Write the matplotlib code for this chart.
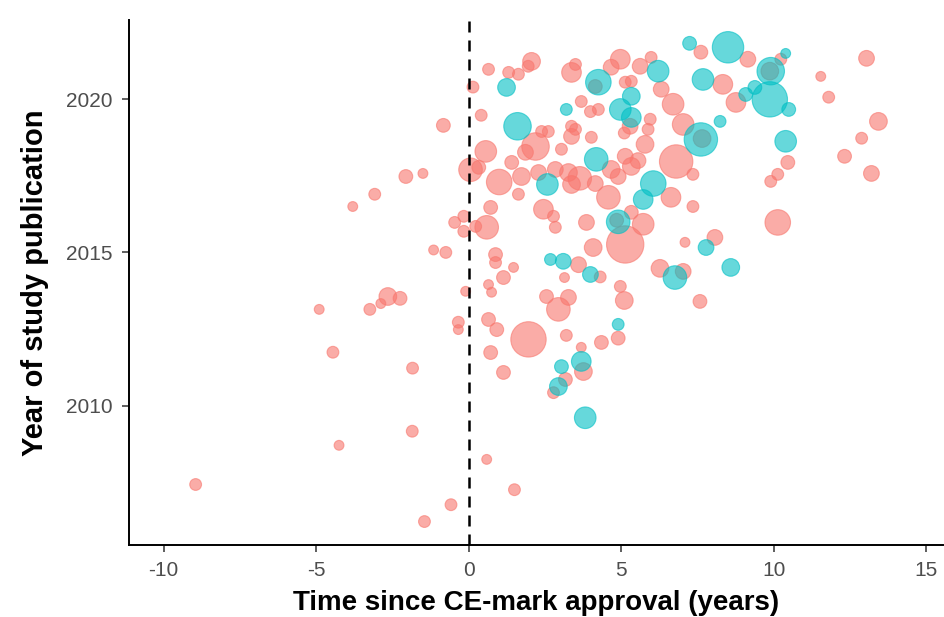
import numpy as np
import matplotlib
matplotlib.use('Agg')
import matplotlib.pyplot as plt

plt.rcParams['font.family'] = ['Liberation Sans', 'DejaVu Sans']
plt.rcParams['axes.unicode_minus'] = False

# Studies without the flag (salmon): time since CE mark, publication year, study size
ce_years_a = [-0.83, -2.06, -1.50, -3.08, -3.80, -0.46, -0.16, -0.16, -1.15, -0.75,
              -0.10, -2.65, -2.25, -2.88, -3.24, -4.90, -0.34, -0.34, -4.45, -1.84,
              -1.85, -4.25, -8.95, -0.58, -1.45,
              0.14, 0.65, 0.41, 0.06, 0.56, 1.00, 0.72, 0.23, 0.59, 0.88,
              0.88, 0.65, 0.75, 0.65, 0.92, 0.72, 1.14, 0.59, 1.50, 0.33,
              1.31, 1.63, 2.06, 1.95, 2.61, 2.39, 2.19, 3.04, 3.37, 3.50,
              3.69, 4.02, 3.37, 3.50, 4.15, 4.97, 4.25, 1.86, 4.67, 5.13,
              4.67, 5.13, 3.99, 3.37, 1.41, 1.73, 2.29, 2.84, 3.27, 3.64,
              4.15, 4.90,
              1.63, 3.37, 4.58, 2.45, 2.78, 2.84, 1.47, 1.14, 3.60, 4.31,
              3.14, 3.86, 4.08, 5.13, 2.55, 3.27, 2.94, 4.97, 5.10, 1.96,
              3.20, 3.69, 4.35, 4.90, 3.76, 3.17, 2.78, 4.85,
              5.98, 5.62, 5.33, 6.31, 7.61, 9.15, 10.23, 9.87, 8.33, 8.76,
              6.70, 7.03, 7.65, 5.95, 5.88, 5.78, 5.29, 5.33, 6.80, 7.35,
              10.46, 10.13, 9.90, 6.63, 7.35, 5.72, 10.13, 7.09, 8.07, 6.27,
              7.03, 7.58, 5.33, 5.10, 5.55,
              13.04, 11.54, 11.80, 13.43, 12.88, 12.32, 13.20]
pub_year_a = [2019.15, 2017.48, 2017.58, 2016.90, 2016.50, 2015.98, 2016.18, 2015.69, 2015.08, 2015.00,
              2013.73, 2013.56, 2013.50, 2013.33, 2013.14, 2013.14, 2012.72, 2012.48, 2011.74, 2011.22,
              2009.16, 2008.70, 2007.42, 2006.76, 2006.21,
              2020.40, 2020.98, 2019.48, 2017.70, 2018.30, 2017.30, 2016.47, 2015.85, 2015.82, 2014.93,
              2014.67, 2013.95, 2013.70, 2012.81, 2012.48, 2011.73, 2011.08, 2008.24, 2007.25, 2017.78,
              2020.88, 2020.82, 2021.24, 2021.08, 2018.95, 2018.95, 2018.46, 2018.37, 2020.88, 2021.14,
              2019.93, 2018.76, 2018.79, 2019.02, 2020.42, 2021.31, 2019.67, 2018.27, 2017.71, 2018.14,
              2021.05, 2020.56, 2019.60, 2019.12, 2017.94, 2017.48, 2017.61, 2017.71, 2017.61, 2017.42,
              2017.25, 2017.48,
              2016.90, 2017.22, 2016.80, 2016.41, 2016.18, 2015.82, 2014.51, 2014.18, 2014.60, 2014.20,
              2014.18, 2015.98, 2015.16, 2015.26, 2013.56, 2013.53, 2013.14, 2013.89, 2013.43, 2012.16,
              2012.29, 2011.90, 2012.06, 2012.20, 2011.11, 2010.85, 2010.42, 2016.05,
              2021.37, 2021.08, 2020.59, 2020.33, 2021.54, 2021.31, 2021.31, 2020.92, 2020.49, 2019.90,
              2019.84, 2019.18, 2018.72, 2019.35, 2019.02, 2018.53, 2019.12, 2017.81, 2017.97, 2017.55,
              2017.94, 2017.55, 2017.32, 2016.80, 2016.50, 2015.92, 2015.98, 2015.33, 2015.49, 2014.48,
              2014.38, 2013.40, 2016.31, 2018.90, 2018.00,
              2021.34, 2020.75, 2020.07, 2019.28, 2018.73, 2018.14, 2017.58]
n_a = [490, 490, 250, 360, 250, 360, 360, 360, 250, 360,
       250, 810, 490, 250, 360, 250, 360, 250, 360, 360,
       360, 250, 360, 360, 360,
       360, 360, 360, 1440, 1210, 1690, 490, 360, 1440, 490,
       360, 250, 250, 490, 490, 490, 490, 250, 360, 490,
       360, 360, 810, 360, 360, 360, 1960, 360, 1000, 360,
       360, 360, 640, 360, 490, 1000, 360, 640, 810, 640,
       640, 360, 360, 360, 490, 810, 640, 640, 810, 1440,
       640, 640,
       360, 810, 1440, 1000, 360, 360, 250, 490, 640, 360,
       250, 640, 810, 3610, 490, 640, 1440, 360, 810, 3240,
       360, 250, 490, 490, 810, 490, 360, 490,
       360, 640, 360, 640, 490, 640, 360, 810, 1000, 1000,
       1210, 1210, 810, 360, 360, 810, 640, 810, 2890, 360,
       490, 360, 360, 1000, 360, 1210, 1690, 250, 640, 810,
       640, 490, 490, 360, 640,
       640, 250, 360, 810, 360, 490, 640]

# Studies with the flag (teal)
ce_years_b = [1.24, 1.60, 3.20, 4.25, 4.97, 4.18, 2.58, 5.33, 5.33, 7.24,
              8.50, 10.39, 9.90, 9.87, 9.08, 9.38, 10.49, 10.39, 7.68, 6.21,
              7.61, 8.24, 6.05, 5.72, 4.90, 2.68, 3.10, 3.99, 4.90, 7.78,
              8.59, 6.76, 3.04, 3.69, 2.94, 3.82]
pub_year_b = [2020.39, 2019.12, 2019.67, 2020.56, 2019.67, 2018.04, 2017.22, 2020.10, 2019.41, 2021.83,
              2021.70, 2021.50, 2020.92, 2020.00, 2020.16, 2020.39, 2019.67, 2018.63, 2020.65, 2020.92,
              2018.69, 2019.28, 2017.25, 2016.73, 2016.00, 2014.77, 2014.71, 2014.28, 2012.65, 2015.16,
              2014.51, 2014.18, 2011.27, 2011.44, 2010.62, 2009.60]
n_b = [810, 1960, 360, 1690, 1210, 1440, 1210, 810, 1000, 490,
       2560, 250, 1960, 3240, 490, 490, 490, 1210, 1210, 1210,
       2890, 360, 1690, 1000, 1440, 360, 640, 640, 360, 640,
       810, 1440, 490, 1000, 810, 1210]

x_ticks = [-10, -5, 0, 5, 10, 15]
y_ticks = [2010, 2015, 2020]

SALMON = '#F8766D'
TEAL = '#00BFC4'


def bubble(n):
    return np.asarray(n) * 0.2


fig = plt.figure(figsize=(9.45, 6.17), dpi=100)
ax = fig.add_axes([0.136, 0.117, 0.862, 0.851])

ax.scatter(ce_years_a, pub_year_a, s=bubble(n_a), color=SALMON, alpha=0.6,
           edgecolors=SALMON, linewidths=0.8, zorder=2)
ax.scatter(ce_years_b, pub_year_b, s=bubble(n_b), color=TEAL, alpha=0.6,
           edgecolors=TEAL, linewidths=0.8, zorder=2)

ax.axvline(0, color='black', linestyle=(0, (4.4, 3.2)), linewidth=1.8, zorder=3)

ax.set_xlim(-11.15, 15.55)
ax.set_ylim(2005.45, 2022.6)
ax.set_xticks(x_ticks)
ax.set_yticks(y_ticks)

for side in ['top', 'right']:
    ax.spines[side].set_visible(False)
for side in ['left', 'bottom']:
    ax.spines[side].set_linewidth(1.4)
    ax.spines[side].set_color('black')
ax.tick_params(axis='both', length=5, width=1.1, color='#333333',
               labelsize=15, labelcolor='#4D4D4D', pad=6.5)

ax.set_xlabel('Time since CE-mark approval (years)', fontsize=20,
              fontweight='bold', labelpad=7)
ax.set_ylabel('Year of study publication', fontsize=21,
              fontweight='bold', labelpad=12)

fig.savefig('out.png', dpi=100, facecolor='white')
